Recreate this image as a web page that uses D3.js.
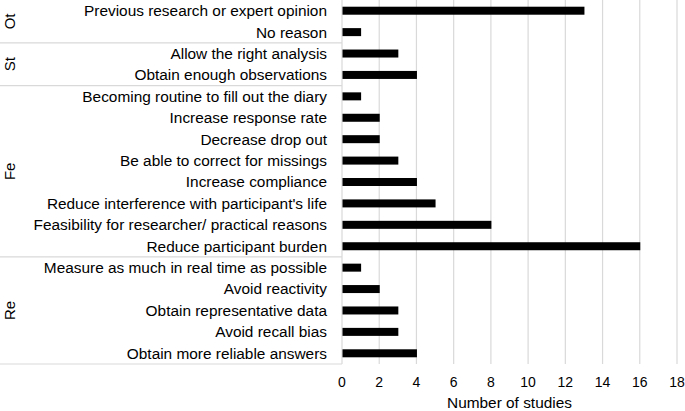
<!DOCTYPE html>
<html>
<head>
<meta charset="utf-8">
<script src="https://cdn.jsdelivr.net/npm/d3@7"></script>
<style>
  body { margin: 0; background: #fff; }
  text { font-family: "Liberation Sans", Arial, sans-serif; fill: #000; }
</style>
</head>
<body>
<div id="chart"></div>
<script>
// categories top to bottom
var reasons = [
    "Previous research or expert opinion", "No reason",
    "Allow the right analysis", "Obtain enough observations",
    "Becoming routine to fill out the diary", "Increase response rate",
    "Decrease drop out", "Be able to correct for missings",
    "Increase compliance", "Reduce interference with participant's life",
    "Feasibility for researcher/ practical reasons", "Reduce participant burden",
    "Measure as much in real time as possible", "Avoid reactivity",
    "Obtain representative data", "Avoid recall bias",
    "Obtain more reliable answers"
];
var studies = [13, 1, 3, 4, 1, 2, 2, 3, 4, 5, 8, 16, 1, 2, 3, 3, 4];
var groupNames = ["Ot", "St", "Fe", "Re"];
var groupSizes = [2, 2, 8, 5];
var xTicks = [0, 2, 4, 6, 8, 10, 12, 14, 16, 18];

var W = 685, H = 411;
var margin = { top: 0, right: 8, bottom: 47, left: 342 };
var width = W - margin.left - margin.right,
    height = H - margin.top - margin.bottom;

var svg = d3.select("#chart").append("svg")
    .attr("width", W)
    .attr("height", H);

var g = svg.append("g")
    .attr("transform", "translate(" + margin.left + "," + margin.top + ")");

var x = d3.scaleLinear().domain([0, 18]).range([0, 335]);
var y = d3.scaleBand().domain(reasons).range([0, height]);

// gridlines
g.selectAll(".grid")
    .data(xTicks.slice(1))
    .enter().append("line")
    .attr("x1", function (d) { return x(d); })
    .attr("x2", function (d) { return x(d); })
    .attr("y1", 0)
    .attr("y2", height)
    .attr("stroke", "#d9d9d9")
    .attr("stroke-width", 1.2);

// left axis line
g.append("line")
    .attr("x1", 0).attr("x2", 0)
    .attr("y1", 0).attr("y2", height)
    .attr("stroke", "#d9d9d9")
    .attr("stroke-width", 1.2);

// bars
g.selectAll(".bar")
    .data(reasons)
    .enter().append("rect")
    .attr("class", "bar")
    .attr("x", x(0) + 0.5)
    .attr("y", function (d) { return y(d) + y.bandwidth() / 2 - 4; })
    .attr("width", function (d, i) { return x(studies[i]) - x(0); })
    .attr("height", 8)
    .attr("fill", "#000");

// category labels
g.selectAll(".lab")
    .data(reasons)
    .enter().append("text")
    .attr("x", -15)
    .attr("y", function (d) { return y(d) + y.bandwidth() / 2; })
    .attr("dy", "0.35em")
    .attr("text-anchor", "end")
    .style("font-size", "15.4px")
    .text(function (d) { return d; });

// group separators and labels
var start = 0;
groupNames.forEach(function (name, i) {
    var top = y(reasons[start]);
    var end = start + groupSizes[i] - 1;
    var bottom = y(reasons[end]) + y.bandwidth();
    g.append("line")
        .attr("x1", -margin.left).attr("x2", 0)
        .attr("y1", bottom).attr("y2", bottom)
        .attr("stroke", "#d9d9d9")
        .attr("stroke-width", 1.2);
    var cy = (top + bottom) / 2;
    g.append("text")
        .attr("transform", "translate(" + (-margin.left + 10) + "," + cy + ") rotate(-90)")
        .attr("dy", "0.35em")
        .attr("text-anchor", "middle")
        .style("font-size", "15px")
        .text(name);
    start = end + 1;
});

// x tick labels
g.selectAll(".tick")
    .data(xTicks)
    .enter().append("text")
    .attr("x", function (d) { return x(d); })
    .attr("y", height + 23)
    .attr("text-anchor", "middle")
    .style("font-size", "14px")
    .text(function (d) { return d; });

// axis title
g.append("text")
    .attr("x", x(9))
    .attr("y", height + 44)
    .attr("text-anchor", "middle")
    .style("font-size", "15.4px")
    .text("Number of studies");
</script>
</body>
</html>
